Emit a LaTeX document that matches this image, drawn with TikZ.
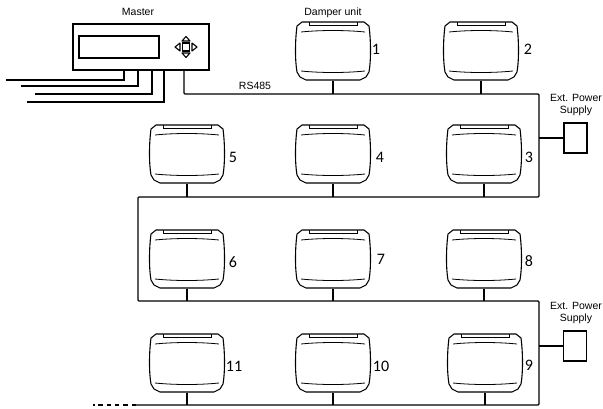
\documentclass[tikz,border=0pt]{standalone}
\usepackage{fontspec}
\setmainfont{Liberation Sans}
\newfontfamily\numfont{Carlito}
\usepackage{tikz}
\usetikzlibrary{positioning,calc}

\tikzset{
    damper/.pic={
        \node[damperbox] (-box) {};
        \draw[line join=round] (-31,-29) -- (31,-29) -- (36,-25)
            .. controls (38,-10) and (38,10) .. (36,21)
            -- (33,26) -- (27,29) -- (-27,29) -- (-33,26) -- (-36,21)
            .. controls (-38,10) and (-38,-10) .. (-36,-25) -- cycle;
        \draw[line width=0.8pt] (-24,-29) -- (-24,-25.5) -- (24,-25.5) -- (24,-29);
        \draw[line width=0.8pt] (-32,-19) .. controls (-12,-21) and (12,-21) .. (32,-19);
        \draw[line width=0.8pt] (-32,20) .. controls (-12,22) and (12,22) .. (32,20);
    },
}

\begin{document}
\begin{tikzpicture}[
    x=1pt, y=-1pt,
    line width=1.1pt,
    damperbox/.style={minimum width=74pt, minimum height=58pt, inner sep=0pt},
    masterbox/.style={rectangle, draw, minimum width=136pt, minimum height=46pt, inner sep=0pt},
    screenbox/.style={rectangle, draw, minimum width=80pt, minimum height=22pt, inner sep=0pt},
    padkey/.style={rectangle, draw, line width=1.4pt, minimum width=7pt, minimum height=8pt, inner sep=0pt},
    supplybox/.style={rectangle, draw, minimum width=23pt, minimum height=30pt, inner sep=0pt},
    caption/.style={font=\fontsize{10.5}{12.5}\selectfont, align=center, inner sep=0pt},
    number/.style={font=\numfont\fontsize{16}{18}\selectfont, inner sep=0pt},
]
    \useasboundingbox (0,0) rectangle (603,408);

    % master
    \node[masterbox] (master) at (141,47) {};
    \node[screenbox] (screen) at (119,47) {};
    \node[padkey] (padkey) at (186,47) {};
    \node[caption] (mastertxt) at (138,12) {Master};
    \draw[line join=round] (186,36.5) -- (190,41) -- (182,41) -- cycle;
    \draw[line join=round] (186,57.5) -- (190,53) -- (182,53) -- cycle;
    \draw[line join=round] (175,47) -- (180,43) -- (180,51) -- cycle;
    \draw[line join=round] (197,47) -- (192,43) -- (192,51) -- cycle;

    % damper units
    \pic (u1) at (333,51) {damper};
    \pic (u2) at (481,51) {damper};
    \pic (u3) at (484,154) {damper};
    \pic (u4) at (333,154) {damper};
    \pic (u5) at (187,154) {damper};
    \pic (u6) at (187,259) {damper};
    \pic (u7) at (333,259) {damper};
    \pic (u8) at (484,259) {damper};
    \pic (u9) at (485,363) {damper};
    \pic (u10) at (333,363) {damper};
    \pic (u11) at (187,363) {damper};

    \node[caption] (unittxt) at (333,13) {Damper unit};
    \node[number] (n1) at (376,49) {1};
    \node[number] (n2) at (528,49) {2};
    \node[number] (n3) at (529,157) {3};
    \node[number] (n4) at (380,157) {4};
    \node[number] (n5) at (233,157) {5};
    \node[number] (n6) at (233,262) {6};
    \node[number] (n7) at (381,259) {7};
    \node[number] (n8) at (529,261) {8};
    \node[number] (n9) at (529,365) {9};
    \node[number] (n10) at (381,366) {10};
    \node[number] (n11) at (234,366) {11};

    % power supplies
    \node[supplybox] (psu1) at (575.5,138) {};
    \node[supplybox] (psu2) at (575,346) {};
    \node[caption] (psutxt1) at (576,105) {Ext. Power\\Supply};
    \node[caption] (psutxt2) at (576,313) {Ext. Power\\Supply};

    % wires leaving the master
    \coordinate (tapa) at (124,70);
    \coordinate (tapb) at (138,70);
    \coordinate (tapc) at (152,70);
    \coordinate (tapd) at (164,70);
    \coordinate (tape) at (184,70);
    \coordinate (enda) at (6,80);
    \coordinate (endb) at (21,86);
    \coordinate (endc) at (35,94);
    \coordinate (endd) at (27,102);
    \draw (tapa) |- (enda);
    \draw (tapb) |- (endb);
    \draw (tapc) |- (endc);
    \draw (tapd) |- (endd);

    % RS485 bus
    \coordinate (busa) at (539,94);
    \coordinate (busb) at (539,197);
    \coordinate (busc) at (138,197);
    \coordinate (busd) at (138,301);
    \coordinate (buse) at (539,301);
    \coordinate (busf) at (539,405);
    \coordinate (busg) at (136,405);
    \coordinate (busend) at (93,405);
    \draw[rounded corners=1pt] (tape) |- (busa) -- (busb) -- (busc) -- (busd) -- (buse) -- (busf) -- (busg);
    \draw[dash pattern=on 4.5pt off 3.8pt] (busg) -- (busend);
    \node[caption] (bustxt) at (255,86) {RS485};

    \draw (u1-box.south) -- (u1-box.south |- busa);
    \draw (u2-box.south) -- (u2-box.south |- busa);
    \draw (u3-box.south) -- (u3-box.south |- busb);
    \draw (u4-box.south) -- (u4-box.south |- busb);
    \draw (u5-box.south) -- (u5-box.south |- busb);
    \draw (u6-box.south) -- (u6-box.south |- busd);
    \draw (u7-box.south) -- (u7-box.south |- busd);
    \draw (u8-box.south) -- (u8-box.south |- busd);
    \draw (u9-box.south) -- (u9-box.south |- busf);
    \draw (u10-box.south) -- (u10-box.south |- busf);
    \draw (u11-box.south) -- (u11-box.south |- busf);

    \draw (psu1.west) -- (psu1.west -| busa);
    \draw (psu2.west) -- (psu2.west -| busa);
\end{tikzpicture}
\end{document}
